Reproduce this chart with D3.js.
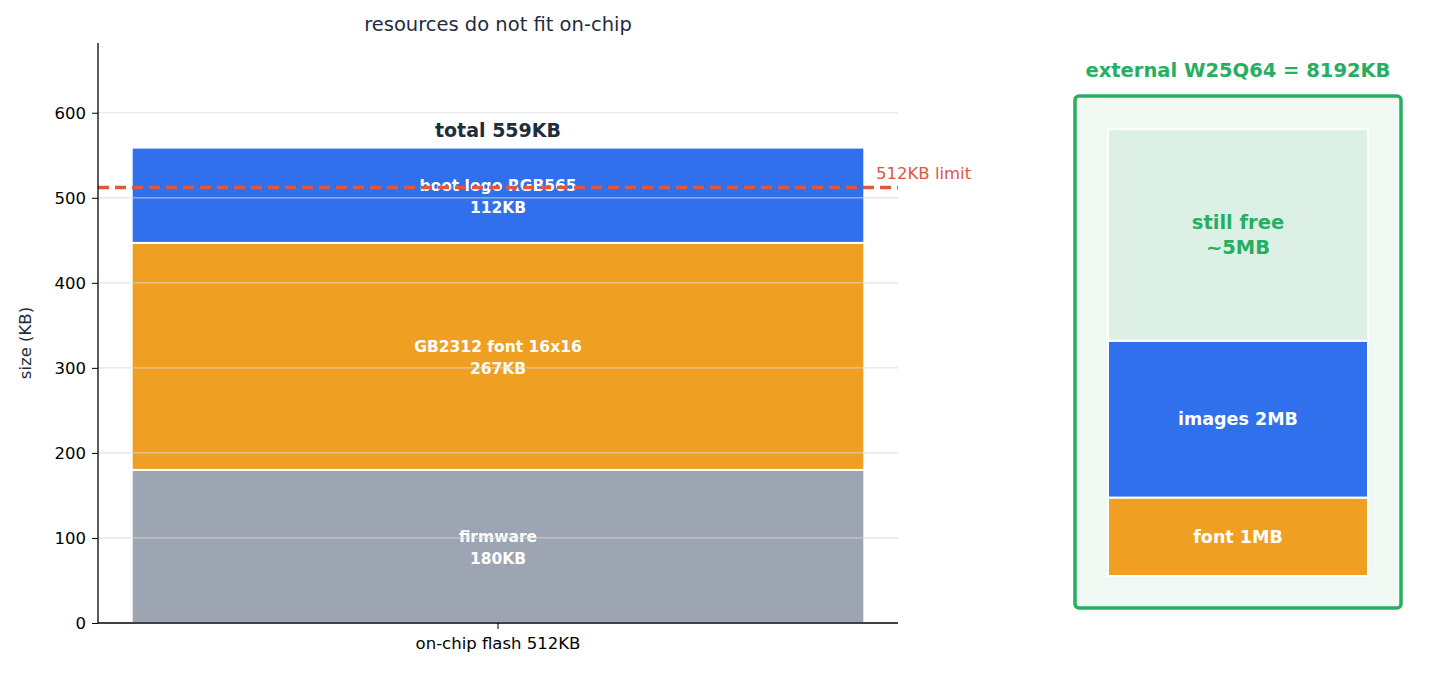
<!DOCTYPE html>
<html>
<head>
<meta charset="utf-8">
<script src="https://cdn.jsdelivr.net/npm/d3@7"></script>
<style>
  body { margin: 0; background: #fff; font-family: "DejaVu Sans", sans-serif; }
</style>
</head>
<body>
<svg id="chart" width="1439" height="674"></svg>
<script>
// on-chip stack
var segLabels = ["firmware", "GB2312 font 16x16", "boot logo RGB565"];
var segValues = [180, 267, 112];
var segColors = ["#9ca5b1", "#efa023", "#3070ec"];
var limitKB = 512;
var yTicks = [0, 100, 200, 300, 400, 500, 600];
var category = "on-chip flash 512KB";

// external flash stack (drawn height units, bottom to top)
var extLabels = ["font 1MB", "images 2MB", "still free\n~5MB"];
var extValues = [1, 2, 2.7];
var extColors = ["#efa023", "#3070ec", "#ddf0e5"];
var extText = ["#fff", "#fff", "#27ae60"];

var svg = d3.select("#chart");
var m = {left: 98, right: 898, top: 43, bottom: 623};

var x = d3.scaleBand().domain([category]).range([m.left, m.right]).paddingInner(0).paddingOuter(0.046);
var y = d3.scaleLinear().domain([0, 682]).range([m.bottom, m.top]);

// stacked bars
var cum = 0;
segValues.forEach(function(v, i) {
  var y0 = cum, y1 = cum + v; cum = y1;
  svg.append("rect")
    .attr("x", x(category)).attr("width", x.bandwidth())
    .attr("y", y(y1)).attr("height", y(y0) - y(y1))
    .attr("fill", segColors[i]).attr("stroke", "#fff").attr("stroke-width", 2);
  var cy = y((y0 + y1) / 2);
  var t = svg.append("text").attr("text-anchor", "middle").attr("fill", "#fff")
    .attr("font-size", 15.5).attr("font-weight", "bold");
  t.append("tspan").attr("x", x(category) + x.bandwidth() / 2).attr("y", cy - 4).text(segLabels[i]);
  t.append("tspan").attr("x", x(category) + x.bandwidth() / 2).attr("y", cy + 18).text(v + "KB");
});

// grid over bars
svg.append("g").selectAll("line").data(yTicks.slice(1)).join("line")
  .attr("x1", m.left).attr("x2", m.right)
  .attr("y1", function(d) { return y(d); }).attr("y2", function(d) { return y(d); })
  .attr("stroke", "#d8d8d8").attr("stroke-opacity", 0.7).attr("stroke-width", 1.2);

// total label
svg.append("text").attr("x", x(category) + x.bandwidth() / 2).attr("y", y(cum) - 11)
  .attr("text-anchor", "middle").attr("font-size", 19).attr("font-weight", "bold")
  .attr("fill", "#1f2d3d").text("total " + cum + "KB");

// limit line
svg.append("line").attr("x1", m.left).attr("x2", m.right)
  .attr("y1", y(limitKB)).attr("y2", y(limitKB))
  .attr("stroke", "#e2553f").attr("stroke-width", 3.5).attr("stroke-dasharray", "11,6");
svg.append("text").attr("x", 876).attr("y", y(limitKB) - 9).attr("font-size", 16.5)
  .attr("fill", "#e2553f").text(limitKB + "KB limit");

// axes
var ya = svg.append("g").attr("transform", "translate(" + m.left + ",0)")
  .call(d3.axisLeft(y).tickValues(yTicks).tickSize(6).tickPadding(6));
ya.select(".domain").attr("d", "M0," + m.bottom + "V" + m.top).attr("stroke", "#000").attr("stroke-width", 1.3);
ya.selectAll("text").attr("font-size", 16.5).attr("fill", "#000").attr("font-family", "DejaVu Sans");
var xa = svg.append("g").attr("transform", "translate(0," + m.bottom + ")")
  .call(d3.axisBottom(x).tickSize(6).tickPadding(8));
xa.select(".domain").attr("d", "M" + m.left + ",0H" + m.right).attr("stroke", "#000").attr("stroke-width", 1.3);
xa.selectAll("text").attr("font-size", 16.5).attr("fill", "#000").attr("font-family", "DejaVu Sans");

svg.append("text").attr("transform", "translate(31," + ((m.top + m.bottom) / 2 + 10) + ") rotate(-90)")
  .attr("text-anchor", "middle").attr("font-size", 16.5).attr("fill", "#1f2d3d").text("size (KB)");
svg.append("text").attr("x", 498).attr("y", 31).attr("text-anchor", "middle")
  .attr("font-size", 19.5).attr("fill", "#1f2d3d").text("resources do not fit on-chip");

// right panel
svg.append("text").attr("x", 1238).attr("y", 77).attr("text-anchor", "middle")
  .attr("font-size", 19.5).attr("font-weight", "bold").attr("fill", "#27ae60")
  .text("external W25Q64 = 8192KB");
svg.append("rect").attr("x", 1075).attr("y", 96).attr("width", 326).attr("height", 512)
  .attr("rx", 4).attr("fill", "#f1f9f4").attr("stroke", "#27ae60").attr("stroke-width", 3.5);

var ey = d3.scaleLinear().domain([0, d3.sum(extValues)]).range([576, 129]);
var ec = 0;
extValues.forEach(function(v, i) {
  var y0 = ec, y1 = ec + v; ec = y1;
  svg.append("rect").attr("x", 1108).attr("width", 260)
    .attr("y", ey(y1)).attr("height", ey(y0) - ey(y1))
    .attr("fill", extColors[i]).attr("stroke", "#fff").attr("stroke-width", 2);
  var lines = extLabels[i].split("\n");
  var cy = ey((y0 + y1) / 2) + 6 - (lines.length - 1) * 12;
  var t = svg.append("text").attr("text-anchor", "middle").attr("fill", extText[i])
    .attr("font-size", i == 2 ? 19.5 : 17.5).attr("font-weight", "bold");
  lines.forEach(function(l, j) {
    t.append("tspan").attr("x", 1238).attr("y", cy + j * 25).text(l);
  });
});
</script>
</body>
</html>
